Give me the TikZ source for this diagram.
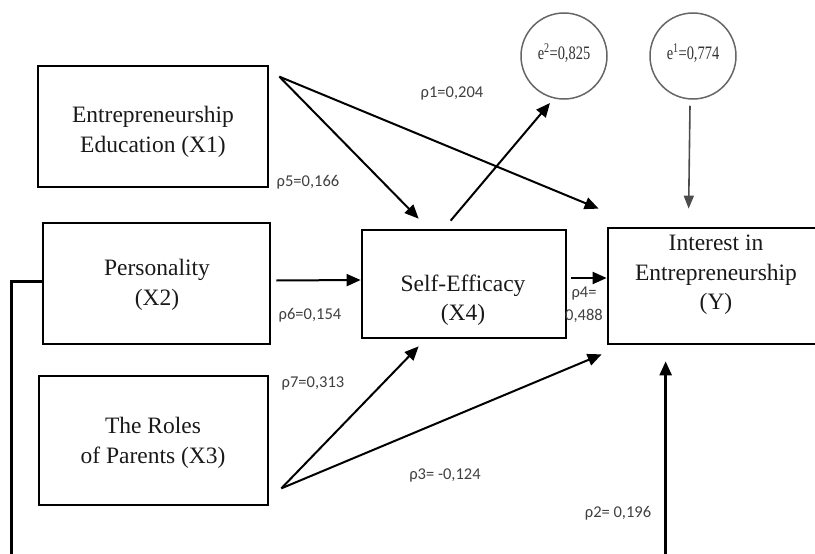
\documentclass[tikz,border=0pt]{standalone}
\usepackage{fontspec}
\usepackage{graphicx}
\setmainfont{Liberation Serif}
\newfontfamily\labelfont{Carlito}
\usetikzlibrary{arrows.meta,calc}
\begin{document}
\begin{tikzpicture}[x=1pt,y=-1pt,
  box/.style={draw=black,line width=2.7pt,rectangle,inner sep=0pt},
  boxtext/.style={align=center,font=\fontsize{23.5}{29.5}\selectfont,text=black!90,inner sep=0pt},
  lab/.style={font=\labelfont\fontsize{16.5}{23}\selectfont,text=black!75,inner sep=0pt,align=center},
  err/.style={circle,draw=black!60,line width=1.5pt,minimum size=86pt,inner sep=0pt,font=\fontsize{19}{22}\selectfont,text=black!80},
  arr/.style={line width=2pt,-{Triangle[length=14pt,width=12pt]}},
  garr/.style={line width=1.6pt,draw=black!70,-{Triangle[length=13pt,width=10pt]}}
]
\useasboundingbox (0,0) rectangle (815,554);

% boxes
\node[box,minimum width=230pt,minimum height=121pt] (x1) at (153,126.5) {};
\node[box,minimum width=227pt,minimum height=121pt] (x2) at (156.5,283.5) {};
\node[box,minimum width=229pt,minimum height=129pt] (x3) at (153.5,440.5) {};
\node[box,minimum width=204pt,minimum height=108pt] (x4) at (464,284) {};
\node[box,minimum width=212pt,minimum height=116pt] (y) at (714,286) {};

% box texts
\node[boxtext] (x1t) at (153,132) {Entrepreneurship\\Education (X1)};
\node[boxtext] (x2t) at (157,285) {Personality\\(X2)};
\node[boxtext] (x3t) at (153,443) {The Roles\\of Parents (X3)};
\node[boxtext] (x4t) at (463,300) {Self-Efficacy\\(X4)};
\node[boxtext] (yt) at (716,275) {Interest in\\Entrepreneurship\\(Y)};

% error terms
\node[err] (e2) at (564,56) {\raisebox{9pt}{\scalebox{0.76}[1]{e\textsuperscript{2}=0,825}}};
\node[err] (e1) at (693,56) {\raisebox{9pt}{\scalebox{0.76}[1]{e\textsuperscript{1}=0,774}}};

% connectors
\coordinate (s1) at ($(x1.north east)+(10,12)$);
\draw[arr] (s1) -- ($(x4.north west)+(58,-10)$);
\draw[arr] (s1) -- ($(y.north west)+(-8,-18)$);
\draw[arr] ($(x4.north west)+(90,-8)$) -- ($(e2.center)+(-14,47)$);
\draw[garr] ($(e1.south)+(-3,6)$) -- ($(y.north west)+(82,-18)$);
\draw[arr] ($(x2.east)+(5,-3)$) -- ($(x4.west)+(0,-4)$);
\draw[arr] ($(x4.east)+(4,-6)$) -- ($(y.west)+(0,-8)$);
\coordinate (s3) at ($(x3.south east)+(12,-18)$);
\draw[arr] (s3) -- ($(x4.south west)+(58,7)$);
\draw[arr] (s3) -- ($(y.south west)+(-5,9)$);
\draw[line width=2.4pt,-{Triangle[length=14pt,width=12pt]}] ($(x2.west)+(0,-2)$) -- ++(-30,0) -- ++(0,290) -| ($(y.south west)+(59,16)$);

% coefficient labels
\node[lab] (p1) at (452,93) {ρ1=0,204};
\node[lab] (p5) at (308,182) {ρ5=0,166};
\node[lab] (p6) at (310,315) {ρ6=0,154};
\node[lab] (p7) at (313,383) {ρ7=0,313};
\node[lab] (p4) at (584,305) {ρ4=\\0,488};
\node[lab] (p3) at (445,475) {ρ3= -0,124};
\node[lab] (p2) at (618,513) {ρ2= 0,196};
\end{tikzpicture}
\end{document}
